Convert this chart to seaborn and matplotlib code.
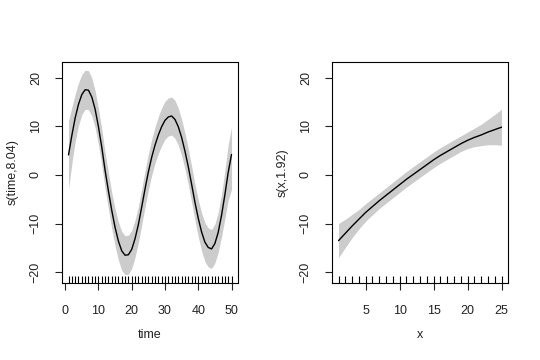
import matplotlib
matplotlib.use("Agg")
import matplotlib.pyplot as plt
import numpy as np
import pandas as pd
import seaborn as sns

# left panel: s(time, 8.04)
time = list(range(1, 51))
time_fit = [4.1, 8.1, 11.7, 14.5, 16.5, 17.5, 17.4, 16.0, 13.5, 9.9,
            5.7, 0.9, -3.3, -7.3, -10.8, -13.6, -15.6, -16.5, -16.4, -15.3,
            -13.1, -10.2, -6.6, -2.9, 0.6, 3.6, 6.1, 8.2, 9.9, 11.2,
            11.9, 12.1, 11.4, 9.9, 7.7, 4.9, 1.7, -1.9, -5.6, -8.9,
            -11.7, -13.8, -14.9, -15.2, -14.1, -11.8, -8.3, -4.1, 0.5, 4.2]
time_lo = [-2.9, 2.3, 6.8, 10.1, 12.4, 13.5, 13.4, 12.1, 9.7, 6.2,
           2.0, -2.8, -7.0, -11.0, -14.6, -17.5, -19.6, -20.5, -20.4, -19.2,
           -16.9, -13.9, -10.3, -6.6, -3.1, -0.1, 2.4, 4.4, 6.0, 7.3,
           8.0, 8.2, 7.5, 6.1, 4.0, 1.2, -2.0, -5.6, -9.3, -12.7,
           -15.6, -17.8, -18.9, -19.2, -18.1, -15.9, -12.7, -9.0, -5.2, -3.0]
time_hi = [11.1, 13.9, 16.6, 18.9, 20.6, 21.5, 21.4, 19.9, 17.3, 13.6,
           9.4, 4.6, 0.4, -3.6, -7.0, -9.7, -11.6, -12.5, -12.4, -11.4,
           -9.3, -6.5, -2.9, 0.8, 4.3, 7.3, 9.8, 12.0, 13.8, 15.1,
           15.8, 16.0, 15.3, 13.7, 11.4, 8.6, 5.4, 1.8, -1.9, -5.1,
           -7.8, -9.8, -10.9, -11.2, -10.1, -7.7, -3.9, 0.8, 6.2, 9.8]

# right panel: s(x, 1.92)
xv = list(range(1, 26))
x_fit = [-13.5, -12.0, -10.5, -9.1, -7.7, -6.5, -5.3, -4.2, -3.1, -2.0,
         -0.9, 0.1, 1.1, 2.1, 3.1, 4.0, 4.8, 5.6, 6.4, 7.1,
         7.7, 8.2, 8.8, 9.3, 9.8]
x_lo = [-17.0, -14.9, -12.9, -11.1, -9.5, -8.2, -6.9, -5.8, -4.7, -3.6,
        -2.5, -1.5, -0.5, 0.5, 1.5, 2.4, 3.2, 4.0, 4.8, 5.4,
        5.8, 6.0, 6.2, 6.2, 6.1]
x_hi = [-10.0, -9.1, -8.1, -7.1, -5.9, -4.8, -3.7, -2.6, -1.5, -0.4,
        0.7, 1.7, 2.7, 3.7, 4.7, 5.6, 6.4, 7.2, 8.0, 8.8,
        9.6, 10.4, 11.4, 12.4, 13.5]

y_ticks = [-20, -10, 0, 10, 20]

sns.set_theme(style="ticks")
plt.rcParams["font.family"] = ["Liberation Sans", "DejaVu Sans"]
plt.rcParams["axes.edgecolor"] = "black"
plt.rcParams["axes.linewidth"] = 0.8

fig = plt.figure(figsize=(5.4, 3.6), dpi=100)
ax1 = fig.add_axes([0.1148, 0.2139, 0.326, 0.614])
ax2 = fig.add_axes([0.6148, 0.2139, 0.326, 0.614])


def draw_panel(ax, x, fit, lo, hi, xlabel, ylabel, xticks):
    df = pd.DataFrame({"x": x, "fit": fit})
    ax.fill_between(x, lo, hi, color="#cccccc", linewidth=0)
    sns.lineplot(data=df, x="x", y="fit", ax=ax, color="black", linewidth=1.0)
    sns.rugplot(data=df, x="x", ax=ax, height=0.03, color="black",
                linewidth=0.8, expand_margins=False)
    rng = max(x) - min(x)
    ax.set_xlim(min(x) - 0.04 * rng, max(x) + 0.04 * rng)
    ax.set_ylim(-22.2, 23.2)
    ax.set_xticks(xticks)
    ax.set_yticks(y_ticks)
    ax.tick_params(axis="both", direction="out", length=5, width=0.8,
                   colors="#222222", labelsize=9)
    ax.tick_params(axis="x", pad=10.5)
    ax.tick_params(axis="y", labelrotation=90, pad=9.5)
    for lab in ax.get_yticklabels():
        lab.set_va("center")
    for s in ax.spines.values():
        s.set_visible(True)
        s.set_color("black")
    ax.set_xlabel(xlabel, fontsize=9, labelpad=9, color="#222222")
    ax.set_ylabel(ylabel, fontsize=9, labelpad=8, color="#222222")
    ax.grid(False)


draw_panel(ax1, time, time_fit, time_lo, time_hi, "time", "s(time,8.04)",
           [0, 10, 20, 30, 40, 50])
draw_panel(ax2, xv, x_fit, x_lo, x_hi, "x", "s(x,1.92)",
           [5, 10, 15, 20, 25])

fig.savefig("out.png", dpi=100)
